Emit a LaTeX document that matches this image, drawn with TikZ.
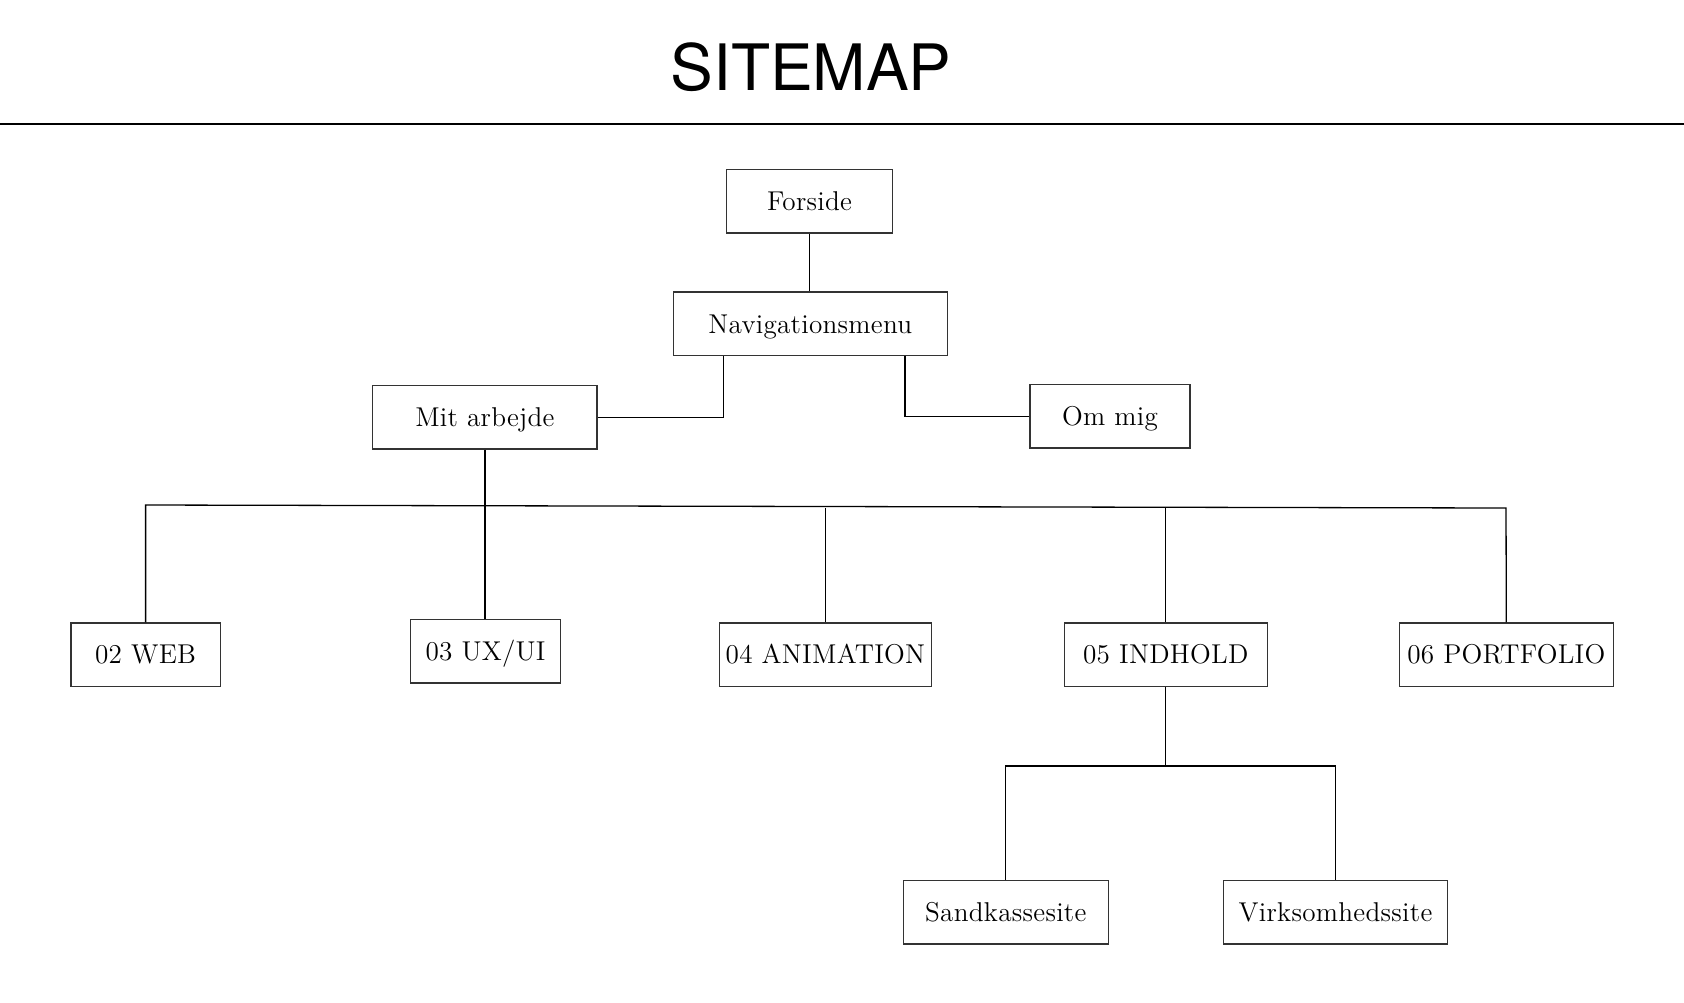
\documentclass[tikz,border=0pt]{standalone}
\usepackage{fontspec}
\newfontfamily\titlefont{TeX Gyre Heros}
\newfontfamily\boxfont{Latin Modern Roman}[LetterSpace=1]
\begin{document}
\begin{tikzpicture}[x=0.5pt,y=-0.5pt,
  box/.style={draw=black!80, line width=0.65pt, minimum height=31.7pt, inner sep=0pt,
    text height=9.3pt, text depth=0pt,
    font=\boxfont\fontsize{13.6}{16}\selectfont},
  conn/.style={line width=0.65pt, black}]
\useasboundingbox (0,0) rectangle (1684,1002);
\node[anchor=base, font=\titlefont\fontsize{32}{40}\selectfont] (title) at (811,90) {SITEMAP};
\coordinate (rl) at (0,124);
\coordinate (rr) at (1684,124);
\draw[line width=0.7pt] (rl) -- (rr);

\node[box, minimum width=83.2pt] (forside) at (809.5,201.4) {Forside};
\node[box, minimum width=136.9pt] (nav) at (810.3,323.8) {Navigationsmenu};
\node[box, minimum width=112.2pt] (mit) at (484.9,417.3) {Mit arbejde};
\node[box, minimum width=80pt] (om) at (1110,416.2) {Om mig};
\node[box, minimum width=74.7pt] (web) at (145.6,654.6) {02 WEB};
\node[box, minimum width=75.2pt] (ux) at (485.5,651.4) {03 UX/UI};
\node[box, minimum width=105.8pt] (anim) at (825.4,654.6) {04 ANIMATION};
\node[box, minimum width=101.5pt] (ind) at (1165.8,654.6) {05 INDHOLD};
\node[box, minimum width=106.9pt] (port) at (1506.3,654.6) {06 PORTFOLIO};
\node[box, minimum width=102.6pt] (sand) at (1005.8,912.4) {Sandkassesite};
\node[box, minimum width=112.2pt] (virk) at (1335.5,912.4) {Virksomhedssite};

\draw[conn] (forside.south) -- (forside.south |- nav.north);
\draw[conn] (nav.south west) ++(50.5,0) |- (mit.east);
\draw[conn] (nav.south east) ++(-43,0) |- (om.west);
\draw[conn] (mit.south) -- (mit.south |- ux.north);

\coordinate (tl) at (146,505);
\coordinate (tr) at (1506,508);
\draw[conn] (web.north) -- (web.north |- tl) -- (tr) -- (port.north);
\draw[conn] (anim.north) -- (anim.north |- tr);
\draw[conn] (ind.north) -- (ind.north |- tr);

\coordinate (bj) at (1166,766);
\draw[conn] (ind.south) -- (ind.south |- bj);
\draw[conn] (sand.north) |- (bj) -| (virk.north);
\end{tikzpicture}
\end{document}
